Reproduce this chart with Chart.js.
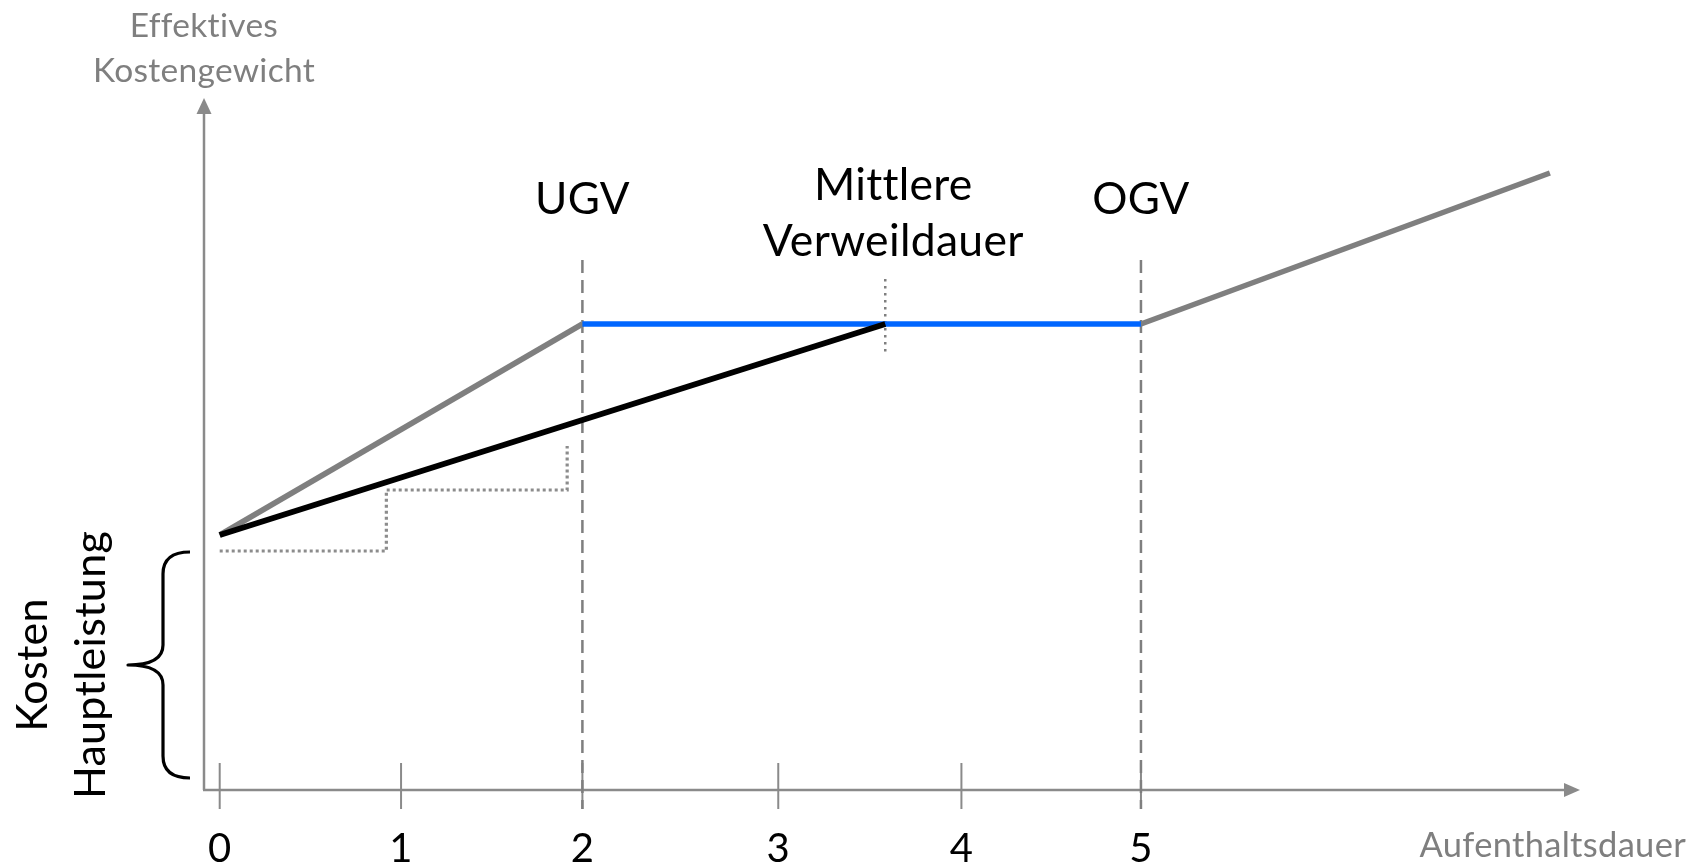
<!DOCTYPE html>
<html><head><meta charset="utf-8">
<script src="https://cdn.jsdelivr.net/npm/chart.js@4/dist/chart.umd.min.js"></script>
<style>html,body{margin:0;padding:0;background:#fff}canvas{display:block}</style>
</head><body>
<canvas id="c" width="1697" height="868"></canvas>
<script>
// ---- data (x in Aufenthaltsdauer units as drawn, y in Kostengewicht units) ----
const xTickValues = [0, 1, 2, 3.08, 4.09, 5.08];
const xTickLabels = ['0', '1', '2', '3', '4', '5'];
const ugvX = 2, mvdX = 3.67, ogvX = 5.08;
const grayRise    = [[0, 2.55], [2, 4.66]];
const blueFlat    = [[2, 4.66], [5.08, 4.66]];
const grayUpper   = [[5.08, 4.66], [7.335, 6.17]];
const blackLine   = [[0, 2.55], [3.67, 4.66]];
const dottedSteps = [[0, 2.39], [0.919, 2.39], [0.919, 3.0], [1.916, 3.0], [1.916, 3.44]];
const mvdMarker   = [[3.67, 5.11], [3.67, 4.37]];
const ugvMarker   = [[2, 5.3], [2, -0.19]];
const ogvMarker   = [[5.08, 5.3], [5.08, -0.19]];
const braceRange  = [0.12, 2.38];
const yTitle = ['Effektives', 'Kostengewicht'];
const xTitle = 'Aufenthaltsdauer';
const braceLabel = ['Kosten', 'Hauptleistung'];

const FONT = 'Lato, "Open Sans", sans-serif';
const GRAY = '#7f7f7f', AXIS = '#8a8a8a', BLUE = '#0066ff';

const pts = a => a.map(([x, y]) => ({x, y}));
function ds(data, color, width, dash, order) {
  return {data: pts(data), showLine: true, borderColor: color, borderWidth: width,
    borderDash: dash || [], pointRadius: 0, pointHoverRadius: 0, clip: false,
    borderCapStyle: 'butt', borderJoinStyle: 'miter', tension: 0, order};
}

const overlay = {
  id: 'overlay',
  beforeDatasetsDraw(chart) {
    const {ctx, chartArea: a, scales: {x, y}} = chart;
    const y0 = y.getPixelForValue(0);
    ctx.save();
    ctx.strokeStyle = AXIS; ctx.fillStyle = AXIS; ctx.lineWidth = 2.5;
    ctx.beginPath(); ctx.moveTo(a.left, y0); ctx.lineTo(a.left, a.top + 14); ctx.stroke();
    ctx.beginPath(); ctx.moveTo(a.left - 1, y0); ctx.lineTo(a.right - 14, y0); ctx.stroke();
    ctx.beginPath(); ctx.moveTo(a.left, a.top); ctx.lineTo(a.left - 7.5, a.top + 16); ctx.lineTo(a.left + 7.5, a.top + 16); ctx.closePath(); ctx.fill();
    ctx.beginPath(); ctx.moveTo(a.right, y0); ctx.lineTo(a.right - 16, y0 - 7); ctx.lineTo(a.right - 16, y0 + 7); ctx.closePath(); ctx.fill();
    ctx.lineWidth = 2;
    xTickValues.forEach(v => {
      const px = x.getPixelForValue(v);
      ctx.beginPath(); ctx.moveTo(px, y.getPixelForValue(0.27)); ctx.lineTo(px, y.getPixelForValue(-0.19)); ctx.stroke();
    });
    ctx.restore();
  },
  afterDatasetsDraw(chart) {
    const {ctx, chartArea: a, scales: {x, y}} = chart;
    ctx.save();
    try { ctx.letterSpacing = '0.3px'; } catch (e) {}
    ctx.textAlign = 'center'; ctx.textBaseline = 'alphabetic';
    // tick labels
    ctx.fillStyle = '#000'; ctx.font = '40px ' + FONT;
    xTickValues.forEach((v, i) => ctx.fillText(xTickLabels[i], x.getPixelForValue(v), 862));
    // axis titles
    ctx.fillStyle = GRAY; ctx.font = '33.5px ' + FONT;
    ctx.fillText(yTitle[0], a.left, 37);
    ctx.fillText(yTitle[1], a.left, 82);
    ctx.textAlign = 'right'; ctx.font = '34.5px ' + FONT;
    ctx.fillText(xTitle, 1686, 857);
    // marker labels
    ctx.textAlign = 'center'; ctx.fillStyle = '#000'; ctx.font = '44px ' + FONT;
    ctx.fillText('UGV', x.getPixelForValue(ugvX), 214);
    ctx.fillText('OGV', x.getPixelForValue(ogvX), 214);
    ctx.font = '44.5px ' + FONT;
    ctx.fillText('Mittlere', x.getPixelForValue(mvdX) + 8, 200);
    ctx.fillText('Verweildauer', x.getPixelForValue(mvdX) + 8, 256);
    // rotated brace label
    ctx.font = '43px ' + FONT;
    const yb0 = y.getPixelForValue(braceRange[0]), yb1 = y.getPixelForValue(braceRange[1]);
    const ym = (yb0 + yb1) / 2;
    ctx.save(); ctx.translate(47, ym); ctx.rotate(-Math.PI / 2); ctx.fillText(braceLabel[0], 0, 0); ctx.restore();
    ctx.save(); ctx.translate(105, ym); ctx.rotate(-Math.PI / 2); ctx.fillText(braceLabel[1], 0, 0); ctx.restore();
    // brace
    ctx.strokeStyle = '#000'; ctx.lineWidth = 3.2; ctx.lineJoin = 'round';
    const xr = 190, xv = 163, xt = 128;
    ctx.beginPath();
    ctx.moveTo(xr, yb1);
    ctx.quadraticCurveTo(xv, yb1, xv, yb1 + 22);
    ctx.lineTo(xv, ym - 20);
    ctx.quadraticCurveTo(xv, ym, xt, ym);
    ctx.quadraticCurveTo(xv, ym, xv, ym + 20);
    ctx.lineTo(xv, yb0 - 22);
    ctx.quadraticCurveTo(xv, yb0, xr, yb0);
    ctx.stroke();
    ctx.restore();
  }
};

new Chart(document.getElementById('c'), {
  type: 'scatter',
  data: {datasets: [
    ds(ugvMarker, GRAY, 2.5, [13, 7], 9),
    ds(ogvMarker, GRAY, 2.5, [13, 7], 9),
    ds(mvdMarker, GRAY, 2.5, [2.5, 4.5], 8),
    ds(dottedSteps, '#8c8c8c', 3.2, [3, 3], 7),
    ds(grayRise, GRAY, 5.5, null, 4),
    ds(grayUpper, GRAY, 5.5, null, 4),
    ds(blueFlat, BLUE, 5.5, null, 3),
    ds(blackLine, '#000', 6, null, 1)
  ]},
  options: {
    responsive: false, animation: false, events: [],
    layout: {padding: {left: 204, right: 117, top: 98, bottom: 78}},
    plugins: {legend: {display: false}, tooltip: {enabled: false}},
    scales: {
      x: {type: 'linear', min: -0.0866, max: 7.501, display: false},
      y: {type: 'linear', min: 0, max: 6.92, display: false}
    }
  },
  plugins: [overlay]
});
</script>
</body></html>
